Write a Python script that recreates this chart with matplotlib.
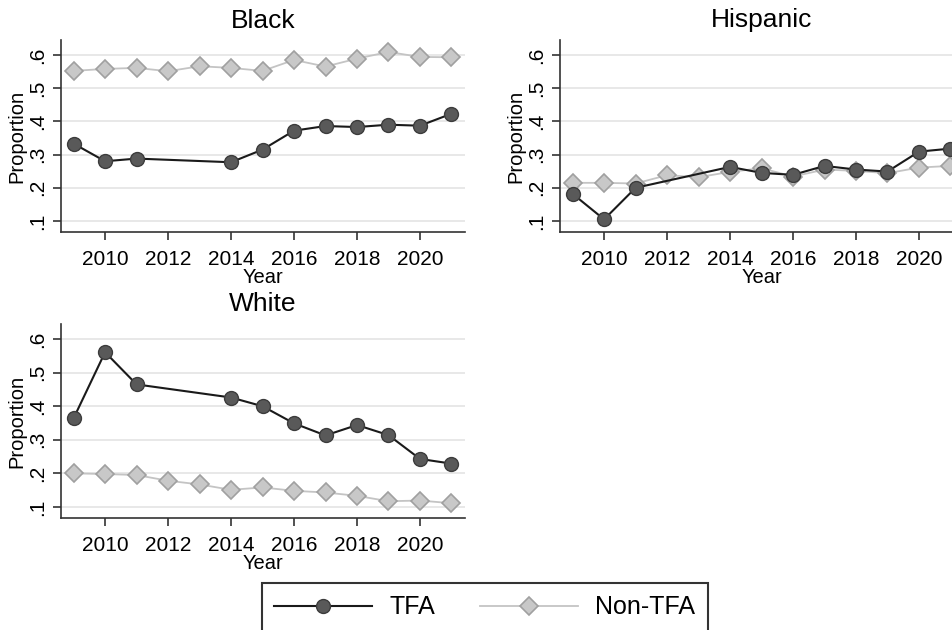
import numpy as np
import matplotlib.pyplot as plt

plt.rcParams['font.family'] = ['Liberation Sans', 'DejaVu Sans']

# TFA series skips 2012 and 2013
tfa_years = [2009, 2010, 2011, 2014, 2015, 2016, 2017, 2018, 2019, 2020, 2021]
non_years = list(range(2009, 2022))

black_tfa = [.333, .280, .288, .277, .315, .372, .386, .383, .390, .387, .423]
black_non = [.552, .558, .561, .551, .566, .561, .552, .585, .565, .589, .609, .594, .593]

hisp_tfa = [.182, .105, .200, .263, .245, .239, .266, .255, .249, .309, .318]
hisp_non = [.215, .215, .213, .238, .232, .248, .259, .234, .255, .251, .244, .261, .266]

white_tfa = [.364, .561, .465, .426, .400, .349, .313, .344, .314, .243, .229]
white_non = [.200, .198, .195, .178, .167, .151, .158, .148, .143, .133, .117, .119, .111]

panels = [
    ("Black", black_tfa, black_non, [61, 40, 404, 192]),
    ("Hispanic", hisp_tfa, hisp_non, [560, 40, 404, 192]),
    ("White", white_tfa, white_non, [61, 324, 404, 194]),
]

W, H = 953, 630
fig = plt.figure(figsize=(W / 100, H / 100), dpi=100)

yticks = [.1, .2, .3, .4, .5, .6]
yticklabels = ['.1', '.2', '.3', '.4', '.5', '.6']

for name, tfa, non, (px, py, pw, ph) in panels:
    ax = fig.add_axes([px / W, 1 - (py + ph) / H, pw / W, ph / H])
    ax.plot(non_years, non, color='#c4c4c4', lw=1.3, marker='D', ms=9,
            mfc='#c8c8c8', mec='#a0a0a0', mew=1.2, zorder=3, label='Non-TFA')
    ax.plot(tfa_years, tfa, color='#1a1a1a', lw=1.5, marker='o', ms=10,
            mfc='#595959', mec='#3c3c3c', mew=1.0, zorder=4, label='TFA')
    ax.set_xlim(2008.6, 2021.43)
    ax.set_ylim(.067, .645)
    ax.set_xticks([2010, 2012, 2014, 2016, 2018, 2020])
    ax.set_yticks(yticks)
    ax.set_yticklabels(yticklabels, rotation=90, va='center')
    ax.tick_params(labelsize=15, length=6, width=1.2, color='#333333', pad=4)
    ax.tick_params(axis='x', pad=7)
    ax.grid(axis='y', color='#e4e4e4', lw=1.2)
    ax.set_axisbelow(True)
    for s in ['top', 'right']:
        ax.spines[s].set_visible(False)
    for s in ['left', 'bottom']:
        ax.spines[s].set_linewidth(1.2)
        ax.spines[s].set_color('#333333')
    ax.set_title(name, fontsize=19, pad=9)
    ax.set_xlabel('Year', fontsize=14.5, labelpad=-1)
    ax.set_ylabel('Proportion', fontsize=14.5, labelpad=1)

handles, labels = ax.get_legend_handles_labels()
leg = fig.legend(handles[::-1], labels[::-1], loc='upper left',
                 bbox_to_anchor=(262 / W, 1 - 583 / H), ncol=2, fontsize=18,
                 frameon=True, fancybox=False, handlelength=3.9,
                 handletextpad=0.7, columnspacing=1.8, borderpad=0.5,
                 borderaxespad=0)
leg.get_frame().set_edgecolor('black')
leg.get_frame().set_linewidth(1.5)

fig.savefig('out.png', dpi=100, facecolor='white')
